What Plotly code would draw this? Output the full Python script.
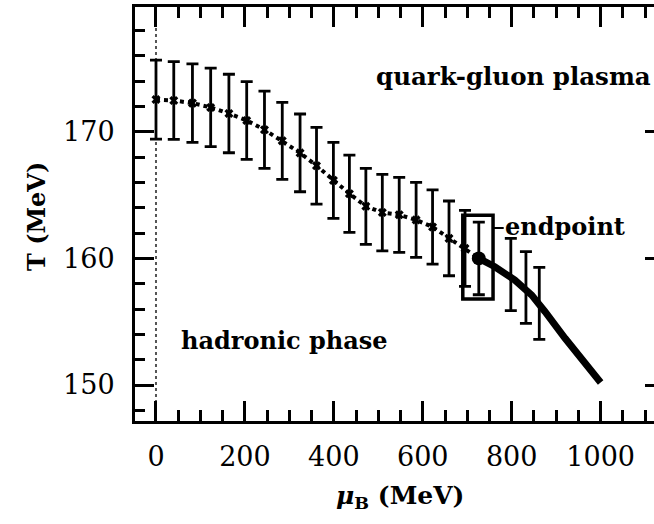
import plotly.graph_objects as go

# ---- data ----
mu_lattice = [0, 40, 82, 123, 164, 204, 244, 284, 324, 361, 399, 435, 472, 509, 547, 585, 622, 659, 695]
T_lattice = [172.54, 172.47, 172.26, 171.92, 171.44, 170.89, 170.16, 169.28, 168.33, 167.32,
             166.16, 165.11, 164.11, 163.62, 163.44, 163.04, 162.48, 161.58, 160.79]
err_lattice = [3.12, 3.07, 3.10, 3.10, 3.10, 3.07, 3.05, 3.04, 3.07, 3.03,
               3.00, 3.05, 3.00, 3.02, 2.96, 2.96, 2.93, 2.95, 3.00]

mu_end = [726]
T_end = [160.0]
err_end = [2.87]

mu_crit = [726, 762, 807, 845, 875, 920, 1000]
T_crit = [160.0, 159.34, 158.29, 157.10, 155.79, 153.69, 150.2]

mu_critbar = [798, 832, 862]
T_critbar = [158.73, 157.70, 156.45]
err_critbar = [2.85, 2.83, 2.84]

box_mu = [690, 758]
box_T = [156.8, 163.4]

x_ticks = [0, 200, 400, 600, 800, 1000]
y_ticks = [150, 160, 170]

XR = [-47.2, 1120]
YR = [147.16, 179.85]

FONT = "DejaVu Serif"

fig = go.Figure()

# dotted lattice curve with error bars (continues into endpoint)
fig.add_trace(go.Scatter(
    x=mu_lattice + mu_end, y=T_lattice + T_end,
    mode="lines+markers",
    line=dict(color="black", width=4, dash="dot"),
    marker=dict(symbol="x", size=8, color="black"),
    error_y=dict(type="data", array=err_lattice + err_end, color="black",
                 thickness=2.8, width=6),
    showlegend=False, hoverinfo="skip"))

# error bars on the critical line
fig.add_trace(go.Scatter(
    x=mu_critbar, y=T_critbar, mode="markers",
    marker=dict(size=2, color="black"),
    error_y=dict(type="data", array=err_critbar, color="black",
                 thickness=2.8, width=6),
    showlegend=False, hoverinfo="skip"))

# thick critical line
fig.add_trace(go.Scatter(
    x=mu_crit, y=T_crit, mode="lines",
    line=dict(color="black", width=7),
    showlegend=False, hoverinfo="skip"))

# endpoint
fig.add_trace(go.Scatter(
    x=mu_end, y=T_end, mode="markers",
    marker=dict(size=14, color="black"),
    showlegend=False, hoverinfo="skip"))

# dummy trace for right-side tick stubs
fig.add_trace(go.Scatter(
    x=mu_end, y=T_end, mode="markers", yaxis="y2",
    marker=dict(size=1, opacity=0),
    showlegend=False, hoverinfo="skip"))

# box around endpoint
fig.add_shape(type="rect", xref="x", yref="y",
              x0=box_mu[0], x1=box_mu[1], y0=box_T[0], y1=box_T[1],
              line=dict(color="black", width=3.5))
# connector to label
fig.add_shape(type="line", xref="x", yref="y",
              x0=box_mu[1], x1=box_mu[1] + 24, y0=162.4, y1=162.4,
              line=dict(color="black", width=2))
# vertical dotted line at mu=0
fig.add_shape(type="line", xref="x", yref="paper", x0=0, x1=0, y0=0, y1=1,
              line=dict(color="#555555", width=2, dash="dot"), layer="below")

ann_font = dict(family=FONT, size=24, color="black", weight="bold")
fig.add_annotation(x=490, y=174.4, xref="x", yref="y", text="quark-gluon plasma",
                   showarrow=False, xanchor="left", yanchor="middle",
                   font=dict(family=FONT, size=24.5, color="black", weight="bold"))
fig.add_annotation(x=52, y=153.5, xref="x", yref="y", text="hadronic phase",
                   showarrow=False, xanchor="left", yanchor="middle", font=ann_font)
fig.add_annotation(x=781, y=162.5, xref="x", yref="y", text="endpoint",
                   showarrow=False, xanchor="left", yanchor="middle", font=ann_font)

# axis titles
fig.add_annotation(x=0.5106, y=-0.1836, xref="paper", yref="paper",
                   text="<i>μ</i><sub>B</sub> (MeV)", showarrow=False,
                   xanchor="center", yanchor="middle",
                   font=dict(family=FONT, size=25, color="black", weight="bold"))
fig.add_annotation(x=-0.1908, y=0.495, xref="paper", yref="paper",
                   text="T (MeV)", showarrow=False, textangle=-90,
                   xanchor="center", yanchor="middle",
                   font=dict(family=FONT, size=24, color="black", weight="bold"))

fig.update_layout(
    width=654, height=524,
    margin=dict(l=135, r=0, t=7, b=103),
    paper_bgcolor="white", plot_bgcolor="white",
    xaxis=dict(range=XR, tickvals=x_ticks, ticks="inside", ticklen=20, tickwidth=2.5,
               tickcolor="black", showline=True, linewidth=3, linecolor="black",
               mirror="ticks", showgrid=False, zeroline=False,
               tickfont=dict(family=FONT, size=27, color="black"),
               ticklabelstandoff=10,
               minor=dict(dtick=50, tick0=0, ticks="inside", ticklen=11, tickwidth=2.5,
                          tickcolor="black", showgrid=False)),
    yaxis=dict(range=YR, tickvals=y_ticks, ticks="inside", ticklen=19, tickwidth=2.5,
               tickcolor="black", showline=True, linewidth=3, linecolor="black",
               mirror=False, showgrid=False, zeroline=False,
               tickfont=dict(family=FONT, size=27, color="black"),
               ticklabelstandoff=12,
               minor=dict(dtick=2, tick0=0, ticks="inside", ticklen=10, tickwidth=2.5,
                          tickcolor="black", showgrid=False)),
    yaxis2=dict(range=YR, overlaying="y", side="right", tickvals=y_ticks,
                ticks="inside", ticklen=9, tickwidth=2.5, tickcolor="black",
                showticklabels=False, showline=False, showgrid=False, zeroline=False),
)

fig.write_html("out.html")
